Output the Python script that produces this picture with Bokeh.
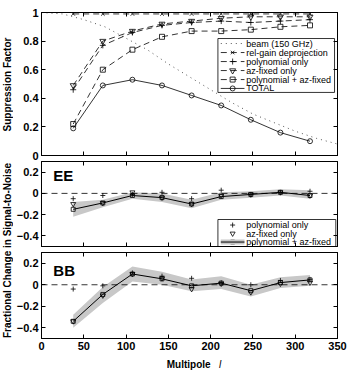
from bokeh.plotting import figure
from bokeh.models import Range1d, LinearAxis, FixedTicker, Span, Label, BoxAnnotation, Arrow
from bokeh.layouts import column, row
from bokeh.embed import file_html
from bokeh.resources import INLINE

# ---------------- data ----------------
ell = [37.5, 72.5, 107.5, 142.5, 177.5, 212.5, 247.5, 282.5, 317.5]

beam_ell = [0, 25, 50, 75, 100, 125, 150, 175, 200, 225, 250, 275, 300, 325, 350]
beam = [1.00, 0.99, 0.95, 0.90, 0.82, 0.74, 0.64, 0.55, 0.46, 0.37, 0.29, 0.23, 0.17, 0.12, 0.08]

sf_relgain = [0.99, 0.99, 0.99, 0.99, 0.99, 0.99, 0.99, 0.99, 0.99]
sf_poly = [0.46, 0.77, 0.86, 0.91, 0.93, 0.94, 0.93, 0.94, 0.95]
sf_az = [0.49, 0.80, 0.87, 0.92, 0.94, 0.96, 0.97, 0.97, 0.97]
sf_both = [0.22, 0.60, 0.74, 0.83, 0.87, 0.87, 0.88, 0.90, 0.91]
sf_total = [0.19, 0.49, 0.53, 0.49, 0.42, 0.35, 0.25, 0.16, 0.10]

ee_poly = [-0.05, -0.02, -0.01, 0.01, -0.05, 0.03, -0.01, 0.01, 0.02]
ee_az = [-0.10, -0.09, 0.01, -0.04, -0.10, -0.02, -0.01, 0.01, -0.02]
ee_both = [-0.15, -0.09, -0.02, -0.04, -0.10, -0.03, -0.01, 0.01, -0.02]
ee_lo = [-0.22, -0.13, -0.05, -0.08, -0.14, -0.06, -0.04, -0.02, -0.05]
ee_hi = [-0.08, -0.06, 0.01, 0.00, -0.06, 0.01, 0.02, 0.04, 0.03]

bb_poly = [-0.04, -0.01, 0.11, 0.08, 0.06, 0.02, 0.00, 0.04, 0.05]
bb_az = [-0.34, -0.10, 0.10, 0.06, -0.04, 0.01, -0.07, 0.01, 0.02]
bb_both = [-0.34, -0.09, 0.10, 0.055, -0.01, 0.015, -0.055, 0.02, 0.045]
bb_lo = [-0.40, -0.17, 0.03, 0.00, -0.06, -0.04, -0.11, -0.03, -0.01]
bb_hi = [-0.28, -0.02, 0.17, 0.12, 0.05, 0.08, 0.00, 0.07, 0.09]

x_ticks = [0, 50, 100, 150, 200, 250, 300, 350]
sf_ticks = [0, 0.2, 0.4, 0.6, 0.8, 1]
sn_ticks = [-0.4, -0.2, 0, 0.2]

FONT = "Liberation Sans"
BAND = "#c8c8c8"
PW = 336          # panel width
LB = 22           # panel left border
RB = 12           # panel right border


def style_axis(ax, labels):
    ax.major_tick_in = 4
    ax.major_tick_out = 0
    ax.minor_tick_line_color = None
    ax.axis_line_color = "black"
    ax.axis_line_width = 1
    ax.major_tick_line_width = 1
    ax.major_label_text_font = FONT
    ax.major_label_text_font_style = "bold"
    if labels:
        ax.major_label_text_color = "black"
        ax.major_label_text_font_size = "11px"
        ax.major_label_standoff = 3
    else:
        ax.major_label_text_color = None
        ax.major_label_text_font_size = "1px"
        ax.major_label_standoff = 0


def make_fig(height, yr, yticks, top, bottom, xlabels):
    p = figure(width=PW, height=height, x_range=Range1d(0, 350), y_range=Range1d(*yr),
               output_backend="svg", toolbar_location=None,
               min_border_left=LB, min_border_right=RB,
               min_border_top=top, min_border_bottom=bottom)
    p.grid.grid_line_color = None
    p.outline_line_color = "black"
    p.outline_line_width = 1
    p.xaxis.ticker = FixedTicker(ticks=x_ticks)
    p.yaxis.ticker = FixedTicker(ticks=yticks)
    style_axis(p.xaxis[0], xlabels)
    style_axis(p.yaxis[0], True)
    ra = LinearAxis(ticker=FixedTicker(ticks=yticks))
    style_axis(ra, False)
    p.add_layout(ra, "right")
    ta = LinearAxis(ticker=FixedTicker(ticks=x_ticks))
    style_axis(ta, False)
    p.add_layout(ta, "above")
    return p


# legend key geometry (in the panels' multipole units)
KEY_X0, KEY_X1, KEY_MID, TEXT_X = 212, 240, 226, 242


def manual_legend(p, box, rows, entries):
    left, right, bottom, top = box
    p.add_layout(BoxAnnotation(left=left, right=right, bottom=bottom, top=top,
                               fill_color="white", fill_alpha=1, line_color="black",
                               line_alpha=1, line_width=0.8, level="underlay"))
    for y, (label, lines, marker, msize) in zip(rows, entries):
        for col, w, dash in lines:
            p.add_layout(Arrow(end=None, x_start=KEY_X0, y_start=y, x_end=KEY_X1, y_end=y,
                               line_color=col, line_width=w, line_dash=dash))
        if marker:
            p.scatter([KEY_MID], [y], marker=marker, size=msize, line_color="black",
                      fill_color=None, line_width=0.8)
        p.add_layout(Label(x=TEXT_X, y=y, text=label, text_font=FONT, text_font_size="9px",
                           text_baseline="middle", text_align="left", text_color="black"))


def blank_fig(w, h, xr, yr, left=0, right=0):
    f = figure(width=w, height=h, x_range=Range1d(*xr), y_range=Range1d(*yr),
               output_backend="svg", toolbar_location=None,
               x_axis_location=None, y_axis_location=None,
               min_border_left=left, min_border_right=right, min_border_top=0, min_border_bottom=0)
    f.grid.grid_line_color = None
    f.outline_line_color = None
    return f


# ---------------- top panel ----------------
p1 = make_fig(160, (0, 1), sf_ticks, 12, 5, False)
p1.yaxis[0].major_label_overrides = {0: "0", 1: "1"}

p1.line(beam_ell, beam, line_dash="1 4", line_color="#555555", line_width=1)
series = [
    ("rel-gain deprojection", sf_relgain, "x", 5, "6 4"),
    ("polynomial only", sf_poly, "cross", 6, "6 4"),
    ("az-fixed only", sf_az, "inverted_triangle", 6, "6 4"),
    ("polynomial + az-fixed", sf_both, "square", 5, "6 4"),
    ("TOTAL", sf_total, "circle", 5, "solid"),
]
for name, vals, mk, sz, dash in series:
    p1.line(ell, vals, line_dash=dash, line_color="black", line_width=0.8)
    p1.scatter(ell, vals, marker=mk, size=sz, line_color="black", fill_color=None, line_width=0.8)

manual_legend(
    p1, (208.6, 346.5, 0.441, 0.818),
    [0.783, 0.720, 0.657, 0.594, 0.531, 0.469],
    [("beam (150 GHz)", [("#555555", 1, "1 4")], None, 0)]
    + [(n, [("black", 0.8, d)], m, s) for n, _, m, s, d in series],
)


def fill_panel(p, lo, hi, both, poly, az):
    p.varea(x=ell, y1=lo, y2=hi, fill_color=BAND, fill_alpha=1)
    p.add_layout(Span(location=0, dimension="width", line_dash="6 4", line_color="black", line_width=0.8))
    p.line(ell, both, line_color="black", line_width=1)
    p.scatter(ell, both, marker="square", size=4, line_color="black", fill_color=None, line_width=0.8)
    p.scatter(ell, poly, marker="cross", size=5, line_color="black", line_width=0.8)
    p.scatter(ell, az, marker="inverted_triangle", size=5, line_color="black", fill_color=None, line_width=0.8)


# ---------------- EE panel ----------------
p2 = make_fig(91, (-0.5, 0.3), sn_ticks, 1, 5, False)
fill_panel(p2, ee_lo, ee_hi, ee_both, ee_poly, ee_az)
p2.add_layout(Label(x=14, y=0.17, text="EE", text_align="left", text_baseline="middle",
                    text_font=FONT, text_font_style="bold", text_font_size="15px", text_color="black"))
manual_legend(
    p2, (208.6, 348, -0.5, -0.246),
    [-0.298, -0.378, -0.458],
    [("polynomial only", [], "cross", 5),
     ("az-fixed only", [], "inverted_triangle", 5),
     ("polynomial + az-fixed", [(BAND, 5, "solid"), ("black", 1, "solid")], "square", 4)],
)

# ---------------- BB panel ----------------
p3 = make_fig(106, (-0.5, 0.3), sn_ticks, 1, 19, True)
fill_panel(p3, bb_lo, bb_hi, bb_both, bb_poly, bb_az)
p3.add_layout(Label(x=14, y=0.135, text="BB", text_align="left", text_baseline="middle",
                    text_font=FONT, text_font_style="bold", text_font_size="15px", text_color="black"))

# ---------------- axis titles ----------------
xlab = blank_fig(PW, 14, (0, 350), (0, 14), left=LB, right=RB)
xlab.add_layout(Label(x=200, y=7, text="Multipole", text_align="right", text_baseline="middle",
                      text_font=FONT, text_font_style="bold", text_font_size="10px", text_color="black"))
xlab.add_layout(Label(x=210, y=7, text="l", text_align="left", text_baseline="middle",
                      text_font=FONT, text_font_style="italic", text_font_size="10px", text_color="black"))

ylab = blank_fig(13, 371, (0, 13), (0, 371))
ylab.add_layout(Label(x=7, y=287, text="Suppression Factor", angle=90, angle_units="deg",
                      text_align="center", text_baseline="middle", text_font=FONT,
                      text_font_style="bold", text_font_size="10px", text_color="black"))
ylab.add_layout(Label(x=7, y=121, text="Fractional Change in Signal-to-Noise", angle=90, angle_units="deg",
                      text_align="center", text_baseline="middle", text_font=FONT,
                      text_font_style="bold", text_font_size="10px", text_color="black"))

layout = row(ylab, column(p1, p2, p3, xlab, spacing=0), spacing=0)
open("out.html", "w").write(file_html(layout, INLINE))
